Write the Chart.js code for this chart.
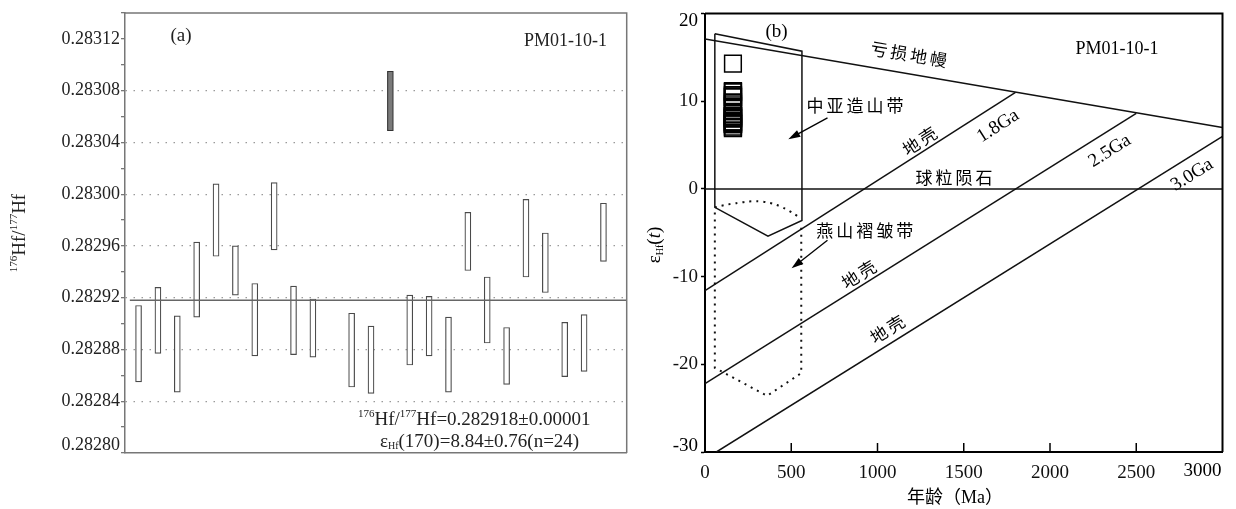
<!DOCTYPE html>
<html>
<head>
<meta charset="utf-8">
<script src="https://cdn.jsdelivr.net/npm/chart.js@4/dist/chart.umd.min.js"></script>
<style>
  html, body { margin: 0; padding: 0; background: #fff; }
  #wrap { position: relative; width: 1236px; height: 509px; }
  #cA { position: absolute; left: 0; top: 0; }
  #cB { position: absolute; left: 640px; top: 0; }
</style>
</head>
<body>
<div id="wrap">
  <canvas id="cA" width="640" height="509"></canvas>
  <canvas id="cB" width="596" height="509"></canvas>
</div>
<script>
// ---- (a) 176Hf/177Hf of each zircon spot (error bar low/high) ----
const spotNo = [1, 2, 3, 4, 5, 6, 7, 8, 9, 10, 12, 13, 15, 16, 17, 18, 19, 20, 21, 22, 23, 24, 25];
const hfHigh = [0.282914, 0.282928, 0.282906, 0.282963, 0.283008, 0.282960, 0.282931, 0.283009, 0.282929, 0.282919, 0.282908, 0.282898,
                0.282922, 0.282921, 0.282905, 0.282986, 0.282936, 0.282897, 0.282996, 0.282970, 0.282901, 0.282907, 0.282993];
const hfLow  = [0.282855, 0.282877, 0.282847, 0.282905, 0.282952, 0.282922, 0.282875, 0.282957, 0.282876, 0.282874, 0.282851, 0.282846,
                0.282868, 0.282875, 0.282847, 0.282941, 0.282885, 0.282853, 0.282936, 0.282924, 0.282859, 0.282863, 0.282948];
const outlierNo = [14];
const outlierHigh = [0.283095];
const outlierLow = [0.283049];
const weightedMean = 0.282918;

// ---- (b) epsilon Hf(t) vs age ----
const sampleAge = 162;
const epsHf = [7.66, 8.29, 7.38, 9.40, 11.03, 9.64, 8.30, 11.13, 8.29, 8.09, 7.47, 6.95,
               8.02, 8.12, 7.38, 10.45, 8.57, 7.10, 10.53, 9.86, 7.49, 7.67, 10.69];
const outlierEps = [14.28];
const dmAge = [0, 3000],     dmEps = [17.1, 7.0];
const churAge = [0, 3000],   churEps = [0, 0];
const crust18Age = [0, 1800], crust18Eps = [-11.6, 11.0];
const crust25Age = [0, 2500], crust25Eps = [-22.2, 8.6];
const crust30Age = [66, 3000], crust30Eps = [-30, 6.0];
const caobAge = [57, 562, 562, 365, 57, 57];
const caobEps = [17.7, 15.7, -3.6, -5.4, -2.1, 17.7];
const ysArcAge = [57, 85, 131, 182, 239, 301, 358, 409, 466, 511, 557];
const ysArcEps = [-2.1, -1.97, -1.78, -1.63, -1.47, -1.40, -1.52, -1.78, -2.27, -2.77, -3.4];
const ysAge = [57, 57, 360, 558, 558];
const ysEps = [-2.7, -20.4, -23.6, -21.0, -3.9];

const SERIF = '"Liberation Serif", "Noto Sans CJK SC", serif';
const CJK = '"Noto Sans CJK SC", sans-serif';
Chart.defaults.font.family = SERIF;

const pts = (xs, ys) => xs.map((x, i) => ({ x: x, y: ys[i] }));

// draw text made of parts [text, size, dy, style]
function rich(ctx, parts, x, y, align) {
  let w = 0;
  parts.forEach(p => {
    ctx.font = (p[3] || '') + ' ' + p[1] + 'px ' + SERIF;
    p.w = ctx.measureText(p[0]).width;
    w += p.w;
  });
  let cx = align === 'center' ? x - w / 2 : (align === 'right' ? x - w : x);
  ctx.textAlign = 'left';
  ctx.textBaseline = 'alphabetic';
  parts.forEach(p => {
    ctx.font = (p[3] || '') + ' ' + p[1] + 'px ' + SERIF;
    ctx.fillText(p[0], cx, y + (p[2] || 0));
    cx += p.w;
  });
}

function spaced(ctx, str, size, gap) {
  ctx.font = size + 'px ' + CJK;
  ctx.textAlign = 'center';
  ctx.textBaseline = 'middle';
  const chars = [...str];
  const total = chars.length * size + (chars.length - 1) * gap;
  chars.forEach((ch, i) => ctx.fillText(ch, -total / 2 + size / 2 + i * (size + gap), 0));
}

function arrow(ctx, x0, y0, x1, y1) {
  const a = Math.atan2(y1 - y0, x1 - x0);
  const c = Math.cos(a), s = Math.sin(a);
  ctx.beginPath();
  ctx.moveTo(x0, y0);
  ctx.lineTo(x1 - 8 * c, y1 - 8 * s);
  ctx.stroke();
  ctx.beginPath();
  ctx.moveTo(x1, y1);
  ctx.lineTo(x1 - 12 * c + 3.8 * s, y1 - 12 * s - 3.8 * c);
  ctx.lineTo(x1 - 12 * c - 3.8 * s, y1 - 12 * s + 3.8 * c);
  ctx.closePath();
  ctx.fill();
}

const isMajor = v => {
  const k = Math.round((v - 0.2828) / 0.00002);
  return k % 2 === 0 ? k : -1;
};

const panelA = {
  id: 'panelA',
  afterDraw(chart) {
    const { ctx, chartArea: a, scales: { y } } = chart;
    ctx.save();
    ctx.strokeStyle = '#777';
    ctx.lineWidth = 1.5;
    ctx.beginPath();
    ctx.moveTo(a.left, a.top);
    ctx.lineTo(a.right, a.top);
    ctx.lineTo(a.right, a.bottom);
    ctx.stroke();

    ctx.fillStyle = '#222';
    ctx.font = '18px ' + SERIF;
    ctx.textAlign = 'right';
    ctx.textBaseline = 'middle';
    ctx.fillText('0.28280', a.left - 5, y.getPixelForValue(0.2828) - 8);

    ctx.font = '19px ' + SERIF;
    ctx.textAlign = 'center';
    ctx.fillText('(a)', 181, 36);
    ctx.font = '18px ' + SERIF;
    ctx.textAlign = 'right';
    ctx.fillText('PM01-10-1', 607, 41);

    rich(ctx, [['176', 11, -8], ['Hf/', 19], ['177', 11, -8], ['Hf=0.282918\u00b10.00001', 19]], 358, 425, 'left');
    rich(ctx, [['\u03b5', 19], ['Hf', 10, 2], ['(170)=8.84\u00b10.76(n=24)', 19]], 380, 447, 'left');

    ctx.translate(19, 233);
    ctx.rotate(-Math.PI / 2);
    rich(ctx, [['176', 11, -8], ['Hf/', 19], ['177', 11, -8], ['Hf', 19]], 0, 6, 'center');
    ctx.restore();
  }
};

new Chart(document.getElementById('cA'), {
  type: 'bar',
  data: {
    datasets: [
      {
        type: 'line',
        data: pts([0.55, 26.2], [weightedMean, weightedMean]),
        borderColor: '#666',
        borderWidth: 1.5,
        pointRadius: 0,
        order: 0
      },
      {
        data: spotNo.map((n, i) => ({ x: n, y: [hfLow[i], hfHigh[i]] })),
        backgroundColor: '#fff',
        borderColor: '#4a4a4a',
        borderWidth: 1.2,
        borderSkipped: false,
        barThickness: 6,
        grouped: false,
        order: 1
      },
      {
        data: outlierNo.map((n, i) => ({ x: n, y: [outlierLow[i], outlierHigh[i]] })),
        backgroundColor: '#7a7a7a',
        borderColor: '#333',
        borderWidth: 1.2,
        borderSkipped: false,
        barThickness: 6,
        grouped: false,
        order: 1
      }
    ]
  },
  options: {
    responsive: false,
    animation: false,
    layout: { padding: { top: 13, right: 13.3, left: 0, bottom: 0 } },
    plugins: { legend: { display: false }, tooltip: { enabled: false } },
    scales: {
      x: {
        type: 'linear',
        min: 0.3,
        max: 26.2,
        offset: false,
        ticks: { display: false },
        grid: { display: false },
        border: { color: '#777', width: 1.5 },
        afterFit(s) { s.height = 56; }
      },
      y: {
        min: 0.2828,
        max: 0.28314,
        ticks: {
          stepSize: 0.00002,
          color: '#222',
          font: { size: 18 },
          padding: 1,
          callback(v) {
            const k = isMajor(v);
            return (k > 0 && k <= 16) ? v.toFixed(5) : '';
          }
        },
        grid: {
          color(c) {
            const k = isMajor(c.tick.value);
            return (k > 0 && k < 16) ? '#9a9a9a' : 'rgba(0,0,0,0)';
          },
          lineWidth: 1.3,
          tickColor: '#777',
          tickLength: 4,
          tickBorderDash: []
        },
        border: { color: '#777', width: 1.5, dash: [1.5, 6.5] },
        afterFit(s) { s.width = 125; }
      }
    }
  },
  plugins: [panelA]
});

// label positions for panel (b), in data units
const labelsB = [
  { t: '亏损地幔', x: 1182, y: 15.34, along: [dmAge, dmEps] },
  { t: '中亚造山带', x: 869, y: 9.55 },
  { t: '地壳', x: 1244, y: 5.45, along: [crust18Age, crust18Eps] },
  { t: '球粒陨石', x: 1443, y: 1.28 },
  { t: '燕山褶皱带', x: 926, y: -4.77 },
  { t: '地壳', x: 892, y: -9.77, along: [crust25Age, crust25Eps] },
  { t: '地壳', x: 1057, y: -16.0, along: [crust30Age, crust30Eps] }
];
const latinB = [
  { t: '(b)', x: 415, y: 17.84 },
  { t: 'PM01-10-1', x: 2389, y: 15.94, size: 18 },
  { t: '1.8Ga', x: 1699, y: 7.16, along: [crust18Age, crust18Eps] },
  { t: '2.5Ga', x: 2347, y: 4.32, along: [crust25Age, crust25Eps] },
  { t: '3.0Ga', x: 2824, y: 1.59, along: [crust30Age, crust30Eps] }
];
const arrowsB = [
  { from: [710, 8.1], to: [483, 5.66] },
  { from: [710, -5.85], to: [502, -9.06] }
];

const panelB = {
  id: 'panelB',
  afterDraw(chart) {
    const { ctx, chartArea: a, scales: { x, y } } = chart;
    const px = v => x.getPixelForValue(v), py = v => y.getPixelForValue(v);
    const angle = l => Math.atan2(py(l[1][1]) - py(l[1][0]), px(l[0][1]) - px(l[0][0]));
    ctx.save();
    ctx.strokeStyle = '#000';
    ctx.fillStyle = '#000';
    ctx.lineWidth = 2;
    ctx.beginPath();
    ctx.moveTo(a.left, a.top);
    ctx.lineTo(a.right, a.top);
    ctx.lineTo(a.right, a.bottom);
    ctx.stroke();

    // inner ticks on the age axis
    ctx.lineWidth = 1.5;
    [500, 1000, 1500, 2000, 2500].forEach(v => {
      ctx.beginPath();
      ctx.moveTo(px(v), a.bottom);
      ctx.lineTo(px(v), a.bottom - 9);
      ctx.stroke();
    });

    // end tick labels pulled inside
    ctx.font = '19px ' + SERIF;
    ctx.textBaseline = 'middle';
    ctx.textAlign = 'right';
    ctx.fillText('20', a.left - 7, py(20) + 8);
    ctx.fillText('-30', a.left - 7, py(-30) - 6);
    ctx.fillText('3000', a.right - 1, 471);

    labelsB.forEach(l => {
      ctx.save();
      ctx.translate(px(l.x), py(l.y));
      if (l.along) ctx.rotate(angle(l.along));
      spaced(ctx, l.t, 17, 3);
      ctx.restore();
    });
    latinB.forEach(l => {
      ctx.save();
      ctx.translate(px(l.x), py(l.y));
      if (l.along) ctx.rotate(angle(l.along));
      ctx.font = (l.size || 19) + 'px ' + SERIF;
      ctx.textAlign = 'center';
      ctx.textBaseline = 'middle';
      ctx.fillText(l.t, 0, 0);
      ctx.restore();
    });

    ctx.lineWidth = 1.3;
    arrowsB.forEach(r => arrow(ctx, px(r.from[0]), py(r.from[1]), px(r.to[0]), py(r.to[1])));

    // axis titles
    ctx.font = '18px ' + SERIF;
    ctx.textAlign = 'center';
    ctx.textBaseline = 'middle';
    ctx.fillText('年龄（Ma）', 315, 498);

    ctx.translate(14, 245);
    ctx.rotate(-Math.PI / 2);
    rich(ctx, [['\u03b5', 19], ['Hf', 10, 3], ['(', 19], ['t', 19, 0, 'italic'], [')', 19]], 0, 6, 'center');
    ctx.restore();
  }
};

const lineDs = (xs, ys, extra) => Object.assign({
  data: pts(xs, ys),
  showLine: true,
  borderColor: '#111',
  borderWidth: 1.5,
  pointRadius: 0,
  fill: false
}, extra || {});

new Chart(document.getElementById('cB'), {
  type: 'scatter',
  data: {
    datasets: [
      lineDs(dmAge, dmEps),
      lineDs(churAge, churEps),
      lineDs(crust18Age, crust18Eps),
      lineDs(crust25Age, crust25Eps),
      lineDs(crust30Age, crust30Eps),
      lineDs(caobAge, caobEps),
      lineDs(ysArcAge, ysArcEps, { borderDash: [2, 5], borderWidth: 2, tension: 0.3 }),
      lineDs(ysAge, ysEps, { borderDash: [2, 5], borderWidth: 2 }),
      {
        data: epsHf.map(v => ({ x: sampleAge, y: v })),
        pointStyle: 'rect',
        pointRadius: 11.8,
        pointBorderWidth: 1.7,
        pointBorderColor: '#000',
        pointBackgroundColor: 'rgba(0,0,0,0)'
      },
      {
        data: outlierEps.map(v => ({ x: sampleAge, y: v })),
        pointStyle: 'rect',
        pointRadius: 11.8,
        pointBorderWidth: 1.5,
        pointBorderColor: '#000',
        pointBackgroundColor: '#fff'
      }
    ]
  },
  options: {
    responsive: false,
    animation: false,
    layout: { padding: { top: 12, right: 3, left: 0, bottom: 0 } },
    plugins: { legend: { display: false }, tooltip: { enabled: false } },
    scales: {
      x: {
        type: 'linear',
        min: 0,
        max: 3000,
        ticks: {
          stepSize: 500,
          color: '#111',
          font: { size: 19 },
          padding: 10,
          maxRotation: 0,
          callback: v => v === 3000 ? '' : v
        },
        grid: { drawOnChartArea: false, drawTicks: false, color: '#000' },
        border: { color: '#000', width: 2 },
        afterFit(s) { s.height = 57; s.paddingRight = 0; s.paddingLeft = 0; }
      },
      y: {
        min: -30,
        max: 20,
        ticks: {
          stepSize: 10,
          color: '#111',
          font: { size: 19 },
          padding: 3,
          callback: v => (v === 20 || v === -30) ? '' : v
        },
        grid: { drawOnChartArea: false, drawTicks: true, tickLength: 4, color: '#000', tickWidth: 1.5 },
        border: { color: '#000', width: 2 },
        afterFit(s) { s.width = 65; s.paddingTop = 0; s.paddingBottom = 0; }
      }
    }
  },
  plugins: [panelB]
});
</script>
</body>
</html>
